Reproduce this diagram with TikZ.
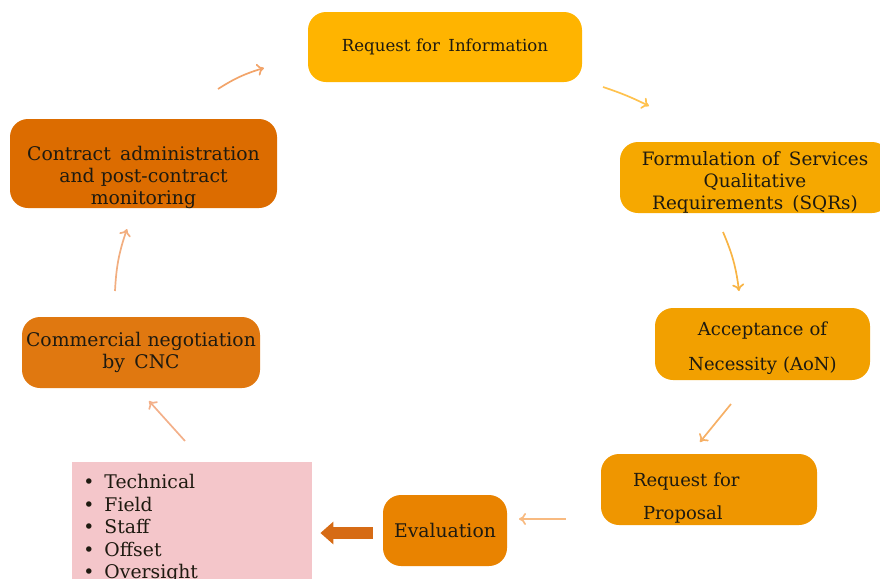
\documentclass[tikz,border=0pt]{standalone}
\usepackage{fontspec}
\setmainfont{DejaVu Serif}
\usetikzlibrary{arrows.meta}

\definecolor{rfiC}{HTML}{FFB400}
\definecolor{sqrC}{HTML}{F6A800}
\definecolor{aonC}{HTML}{F2A000}
\definecolor{rfpC}{HTML}{EF9600}
\definecolor{evalC}{HTML}{E98300}
\definecolor{cncC}{HTML}{E07810}
\definecolor{cadC}{HTML}{DC6C00}
\definecolor{pinkC}{HTML}{F4C6CA}
\definecolor{linkA}{HTML}{FFC24E}
\definecolor{linkB}{HTML}{F8B444}
\definecolor{linkC}{HTML}{F6B066}
\definecolor{linkD}{HTML}{F8BA80}
\definecolor{linkE}{HTML}{F3B08A}
\definecolor{linkF}{HTML}{F2AE80}
\definecolor{linkG}{HTML}{F2A46A}
\definecolor{fatC}{HTML}{D66B15}
\definecolor{txtC}{HTML}{1E1A10}

\newcommand{\fs}[2]{\fontsize{#1}{#2}\selectfont}

\begin{document}
\begin{tikzpicture}[x=0.5pt, y=-0.5pt,
  stage/.style={rounded corners=9pt, inner sep=1pt, align=center, text=txtC},
  textdrop/.style={execute at end node={\endgraf\vspace*{-#1}}},
  link/.style={line width=0.85pt, -{To[length=3.5pt, width=6pt]}},
  fat/.style={fatC, line width=6pt, -{Triangle[length=6.5pt, width=11pt]}}]
  \useasboundingbox (0,0) rectangle (880,579);

  % Stages of the cycle
  \node[stage, fill=rfiC, minimum width=137pt, minimum height=35pt,
    text width=130pt, font=\fs{8.3}{11}] (rfi) at (445,47)
    {Request for\, Information};
  \node[stage, fill=sqrC, minimum width=135pt, minimum height=35.5pt,
    text width=130pt, font=\fs{9.2}{11}, textdrop=5pt] (sqr) at (755,177.5)
    {Formulation of\, Services\\Qualitative\\Requirements\, (SQRs)};
  \node[stage, fill=aonC, minimum width=107.5pt, minimum height=36pt,
    text width=104pt, font=\fs{9}{17.5}, textdrop=4pt] (aon) at (762.5,344)
    {Acceptance of\\Necessity (AoN)};
  \node[stage, fill=rfpC, minimum width=108pt, minimum height=35.5pt,
    inner xsep=16pt, text width=76pt, align=left, font=\fs{9}{16.5}, textdrop=9pt] (rfp) at (709,489.5)
    {Request for\\\hspace*{5pt}Proposal};
  \node[stage, fill=evalC, minimum width=62pt, minimum height=35.5pt,
    text width=60pt, font=\fs{9.4}{11}] (eval) at (445,530.5)
    {Evaluation};
  \node[stage, fill=cncC, minimum width=119pt, minimum height=35.5pt,
    inner xsep=0pt, text width=119pt, font=\fs{9.4}{11}] (cnc) at (141,352.5)
    {Commercial negotiation\\by\, CNC};
  \node[stage, fill=cadC, minimum width=133.5pt, minimum height=44.5pt,
    text width=130pt, font=\fs{9.4}{11}, textdrop=14pt] (cad) at (143.5,163.5)
    {Contract\, administration\\and post-contract\\monitoring};

  % Evaluation criteria
  \node[fill=pinkC, minimum width=120pt, minimum height=64pt, inner sep=0pt] (crit) at (192,526) {};
  \node[anchor=north west, align=left, text=txtC, inner sep=0pt,
    font=\fs{9.4}{11.25}] (critlist) at (83,474)
    {\textbullet\hspace{5pt}Technical\\\textbullet\hspace{5pt}Field\\\textbullet\hspace{5pt}Staff\\
     \textbullet\hspace{5pt}Offset\\\textbullet\hspace{5pt}Oversight};

  % Arrow ends
  \coordinate (a1s) at (603,87);  \coordinate (a1e) at (649,106);
  \coordinate (a2s) at (723,232); \coordinate (a2e) at (739,291);
  \coordinate (a3s) at (731,404); \coordinate (a3e) at (700,442);
  \coordinate (a4s) at (566,519); \coordinate (a4e) at (519,519);
  \coordinate (a5s) at (185,441); \coordinate (a5e) at (149,401);
  \coordinate (a6s) at (115,291); \coordinate (a6e) at (127,229);
  \coordinate (a7s) at (218,89);  \coordinate (a7e) at (264,68);
  \coordinate (fs) at ([xshift=-5pt, yshift=-1.25pt]eval.west);
  \coordinate (fe) at ([xshift=4pt]fs -| crit.east);

  % Cycle arrows
  \draw[link, linkA] (a1s) to[bend left=4] (a1e);
  \draw[link, linkB] (a2s) to[bend left=8] (a2e);
  \draw[link, linkC] (a3s) -- (a3e);
  \draw[link, linkD] (a4s) -- (a4e);
  \draw[link, linkE] (a5s) -- (a5e);
  \draw[link, linkF] (a6s) to[bend left=8] (a6e);
  \draw[link, linkG] (a7s) to[bend left=8] (a7e);

  % Evaluation to criteria
  \draw[fat] (fs) -- (fe);
\end{tikzpicture}
\end{document}
